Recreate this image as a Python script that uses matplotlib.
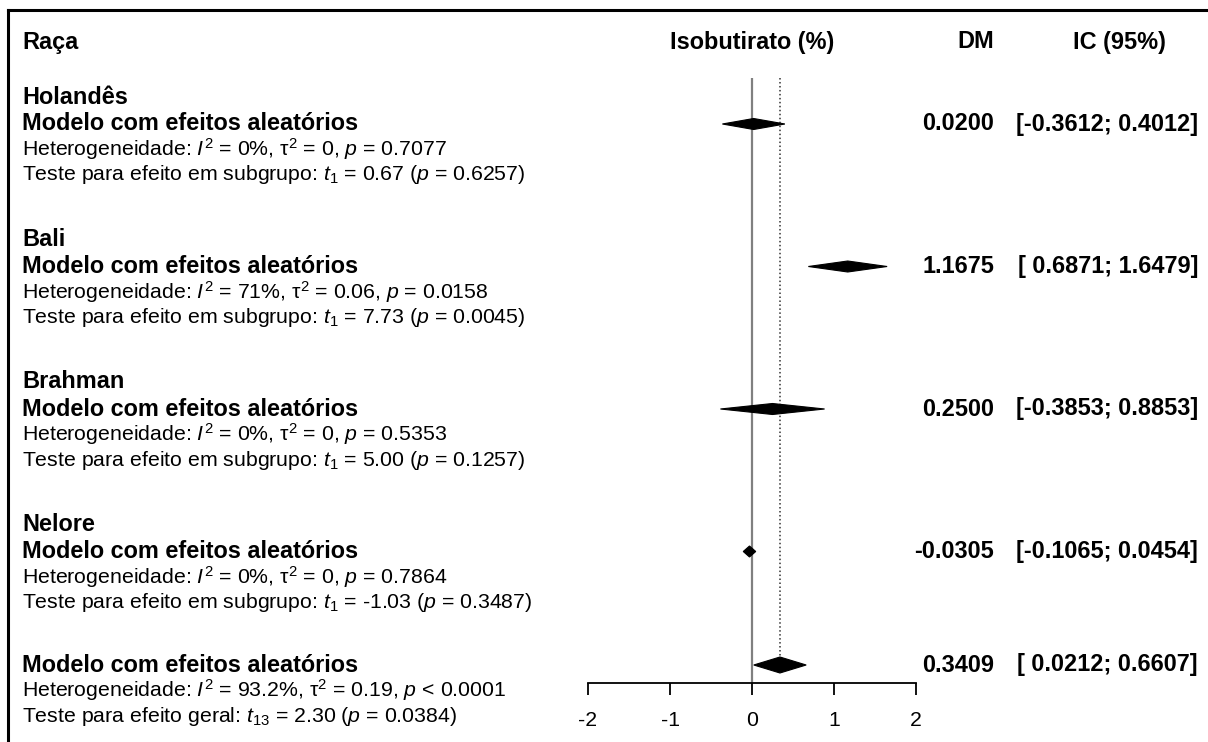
"""Forest plot: isobutirato (%) por raça, modelo com efeitos aleatórios."""

import matplotlib
matplotlib.use("Agg")
import matplotlib.pyplot as plt
from matplotlib.patches import Polygon
from matplotlib.transforms import blended_transform_factory

plt.rcParams["font.family"] = ["Liberation Sans", "DejaVu Sans"]
plt.rcParams["mathtext.fontset"] = "custom"
plt.rcParams["mathtext.rm"] = "Liberation Sans"
plt.rcParams["mathtext.it"] = "Liberation Sans:italic"
plt.rcParams["mathtext.bf"] = "Liberation Sans:bold"

# ---- data ----
breeds = ["Holandês", "Bali", "Brahman", "Nelore"]
md = [0.0200, 1.1675, 0.2500, -0.0305]
ci_lo = [-0.3612, 0.6871, -0.3853, -0.1065]
ci_hi = [0.4012, 1.6479, 0.8853, 0.0454]
i2 = ["0%", "71%", "0%", "0%"]
tau2 = ["0", "0.06", "0", "0"]
p_het = ["= 0.7077", "= 0.0158", "= 0.5353", "= 0.7864"]
t_sub = ["0.67", "7.73", "5.00", "-1.03"]
p_sub = ["0.6257", "0.0045", "0.1257", "0.3487"]

overall_md = 0.3409
overall_lo = 0.0212
overall_hi = 0.6607
overall_i2 = "93.2%"
overall_tau2 = "0.19"
overall_p_het = "< 0.0001"
overall_df = "13"
overall_t = "2.30"
overall_p = "0.0384"

x_ticks = [-2, -1, 0, 1, 2]

# ---- layout (pixels) ----
W, H = 1208, 742
AX_L, AX_R = 588, 916        # x = -2 .. 2
AX_TOP, AX_BOT = 10, 683     # y pixel range of the plotting axes
GROUP_Y0, GROUP_STEP = 97, 142.5
OFF_NAME, OFF_MODEL, OFF_HET, OFF_TEST = 0, 27, 52.5, 78
OV_MODEL, OV_HET, OV_TEST = 665, 690.5, 716
HEADER_Y = 42
LINE_TOP = 78
TXT_X = 22
DM_X = 994
IC_X = 1198
FS_BOLD = 16.9
FS_REG = 15.3

fig = plt.figure(figsize=(W / 100, H / 100), dpi=100)
ax = fig.add_axes([AX_L / W, (H - AX_BOT) / H, (AX_R - AX_L) / W, (AX_BOT - AX_TOP) / H])
ax.set_xlim(-2, 2)
ax.set_ylim(AX_BOT, AX_TOP)
ax.patch.set_visible(False)
for side in ["top", "right", "left"]:
    ax.spines[side].set_visible(False)
ax.spines["bottom"].set_linewidth(1.3)
ax.set_yticks([])
ax.set_xticks(x_ticks)
ax.set_xticklabels([str(t) for t in x_ticks], fontsize=FS_REG)
ax.tick_params(axis="x", direction="out", length=8.5, width=1.3, pad=12)

tr = blended_transform_factory(fig.transFigure, ax.transData)


def put(x_px, y, s, **kw):
    ax.text(x_px / W, y, s, transform=tr, va="center", clip_on=False, **kw)


def diamond(est, lo, hi, y, h):
    pts = [(lo, y), (est, y - h), (hi, y), (est, y + h)]
    ax.add_patch(Polygon(pts, closed=True, facecolor="black", edgecolor="black",
                         linewidth=0.8, zorder=3))


# reference lines
ax.vlines(0, LINE_TOP, AX_BOT, color="#808080", linewidth=1.6, zorder=1)
ax.vlines(overall_md, LINE_TOP, OV_MODEL - 8, color="#333333", linewidth=1.1,
          linestyles=(0, (1, 1.6)), zorder=1)

# headers
put(TXT_X, HEADER_Y, "Raça", fontsize=FS_BOLD, fontweight="bold", ha="left")
ax.text(0, HEADER_Y, "Isobutirato (%)", fontsize=FS_BOLD, fontweight="bold",
        ha="center", va="center", clip_on=False)
put(DM_X, HEADER_Y, "DM", fontsize=FS_BOLD, fontweight="bold", ha="right")
put(1119, HEADER_Y, "IC (95%)", fontsize=FS_BOLD, fontweight="bold", ha="center")

# subgroups
for i, name in enumerate(breeds):
    y0 = GROUP_Y0 + i * GROUP_STEP
    put(TXT_X, y0 + OFF_NAME, name, fontsize=FS_BOLD, fontweight="bold", ha="left")
    put(TXT_X, y0 + OFF_MODEL, "Modelo com efeitos aleatórios", fontsize=FS_BOLD,
        fontweight="bold", ha="left")
    het = ("Heterogeneidade: $I^2$ = " + i2[i] + ", τ$^2$ = " + tau2[i]
           + ", $p$ " + p_het[i])
    put(TXT_X, y0 + OFF_HET, het, fontsize=FS_REG, ha="left")
    test = ("Teste para efeito em subgrupo: $t_1$ = " + t_sub[i]
            + " ($p$ = " + p_sub[i] + ")")
    put(TXT_X, y0 + OFF_TEST, test, fontsize=FS_REG, ha="left")

    diamond(md[i], ci_lo[i], ci_hi[i], y0 + OFF_MODEL, 5.5)
    put(DM_X, y0 + OFF_MODEL, f"{md[i]:.4f}", fontsize=FS_BOLD, fontweight="bold", ha="right")
    put(IC_X, y0 + OFF_MODEL, f"[{ci_lo[i]:7.4f}; {ci_hi[i]:.4f}]", fontsize=FS_BOLD,
        fontweight="bold", ha="right")

# overall
put(TXT_X, OV_MODEL, "Modelo com efeitos aleatórios", fontsize=FS_BOLD,
    fontweight="bold", ha="left")
put(TXT_X, OV_HET, "Heterogeneidade: $I^2$ = " + overall_i2 + ", τ$^2$ = " + overall_tau2
    + ", $p$ " + overall_p_het, fontsize=FS_REG, ha="left")
put(TXT_X, OV_TEST, "Teste para efeito geral: $t_{" + overall_df + "}$ = " + overall_t
    + " ($p$ = " + overall_p + ")", fontsize=FS_REG, ha="left")
diamond(overall_md, overall_lo, overall_hi, OV_MODEL, 8)
put(DM_X, OV_MODEL, f"{overall_md:.4f}", fontsize=FS_BOLD, fontweight="bold", ha="right")
put(IC_X, OV_MODEL, f"[{overall_lo:7.4f}; {overall_hi:.4f}]", fontsize=FS_BOLD,
    fontweight="bold", ha="right")

# frame remnants: top and left border of the cropped screenshot
fig.add_artist(plt.Line2D([8 / W, 1], [(H - 10) / H, (H - 10) / H],
                          transform=fig.transFigure, color="black", linewidth=2.2))
fig.add_artist(plt.Line2D([8 / W, 8 / W], [0, (H - 10) / H],
                          transform=fig.transFigure, color="black", linewidth=2.2))

fig.savefig("out.png", dpi=100, facecolor="white")
